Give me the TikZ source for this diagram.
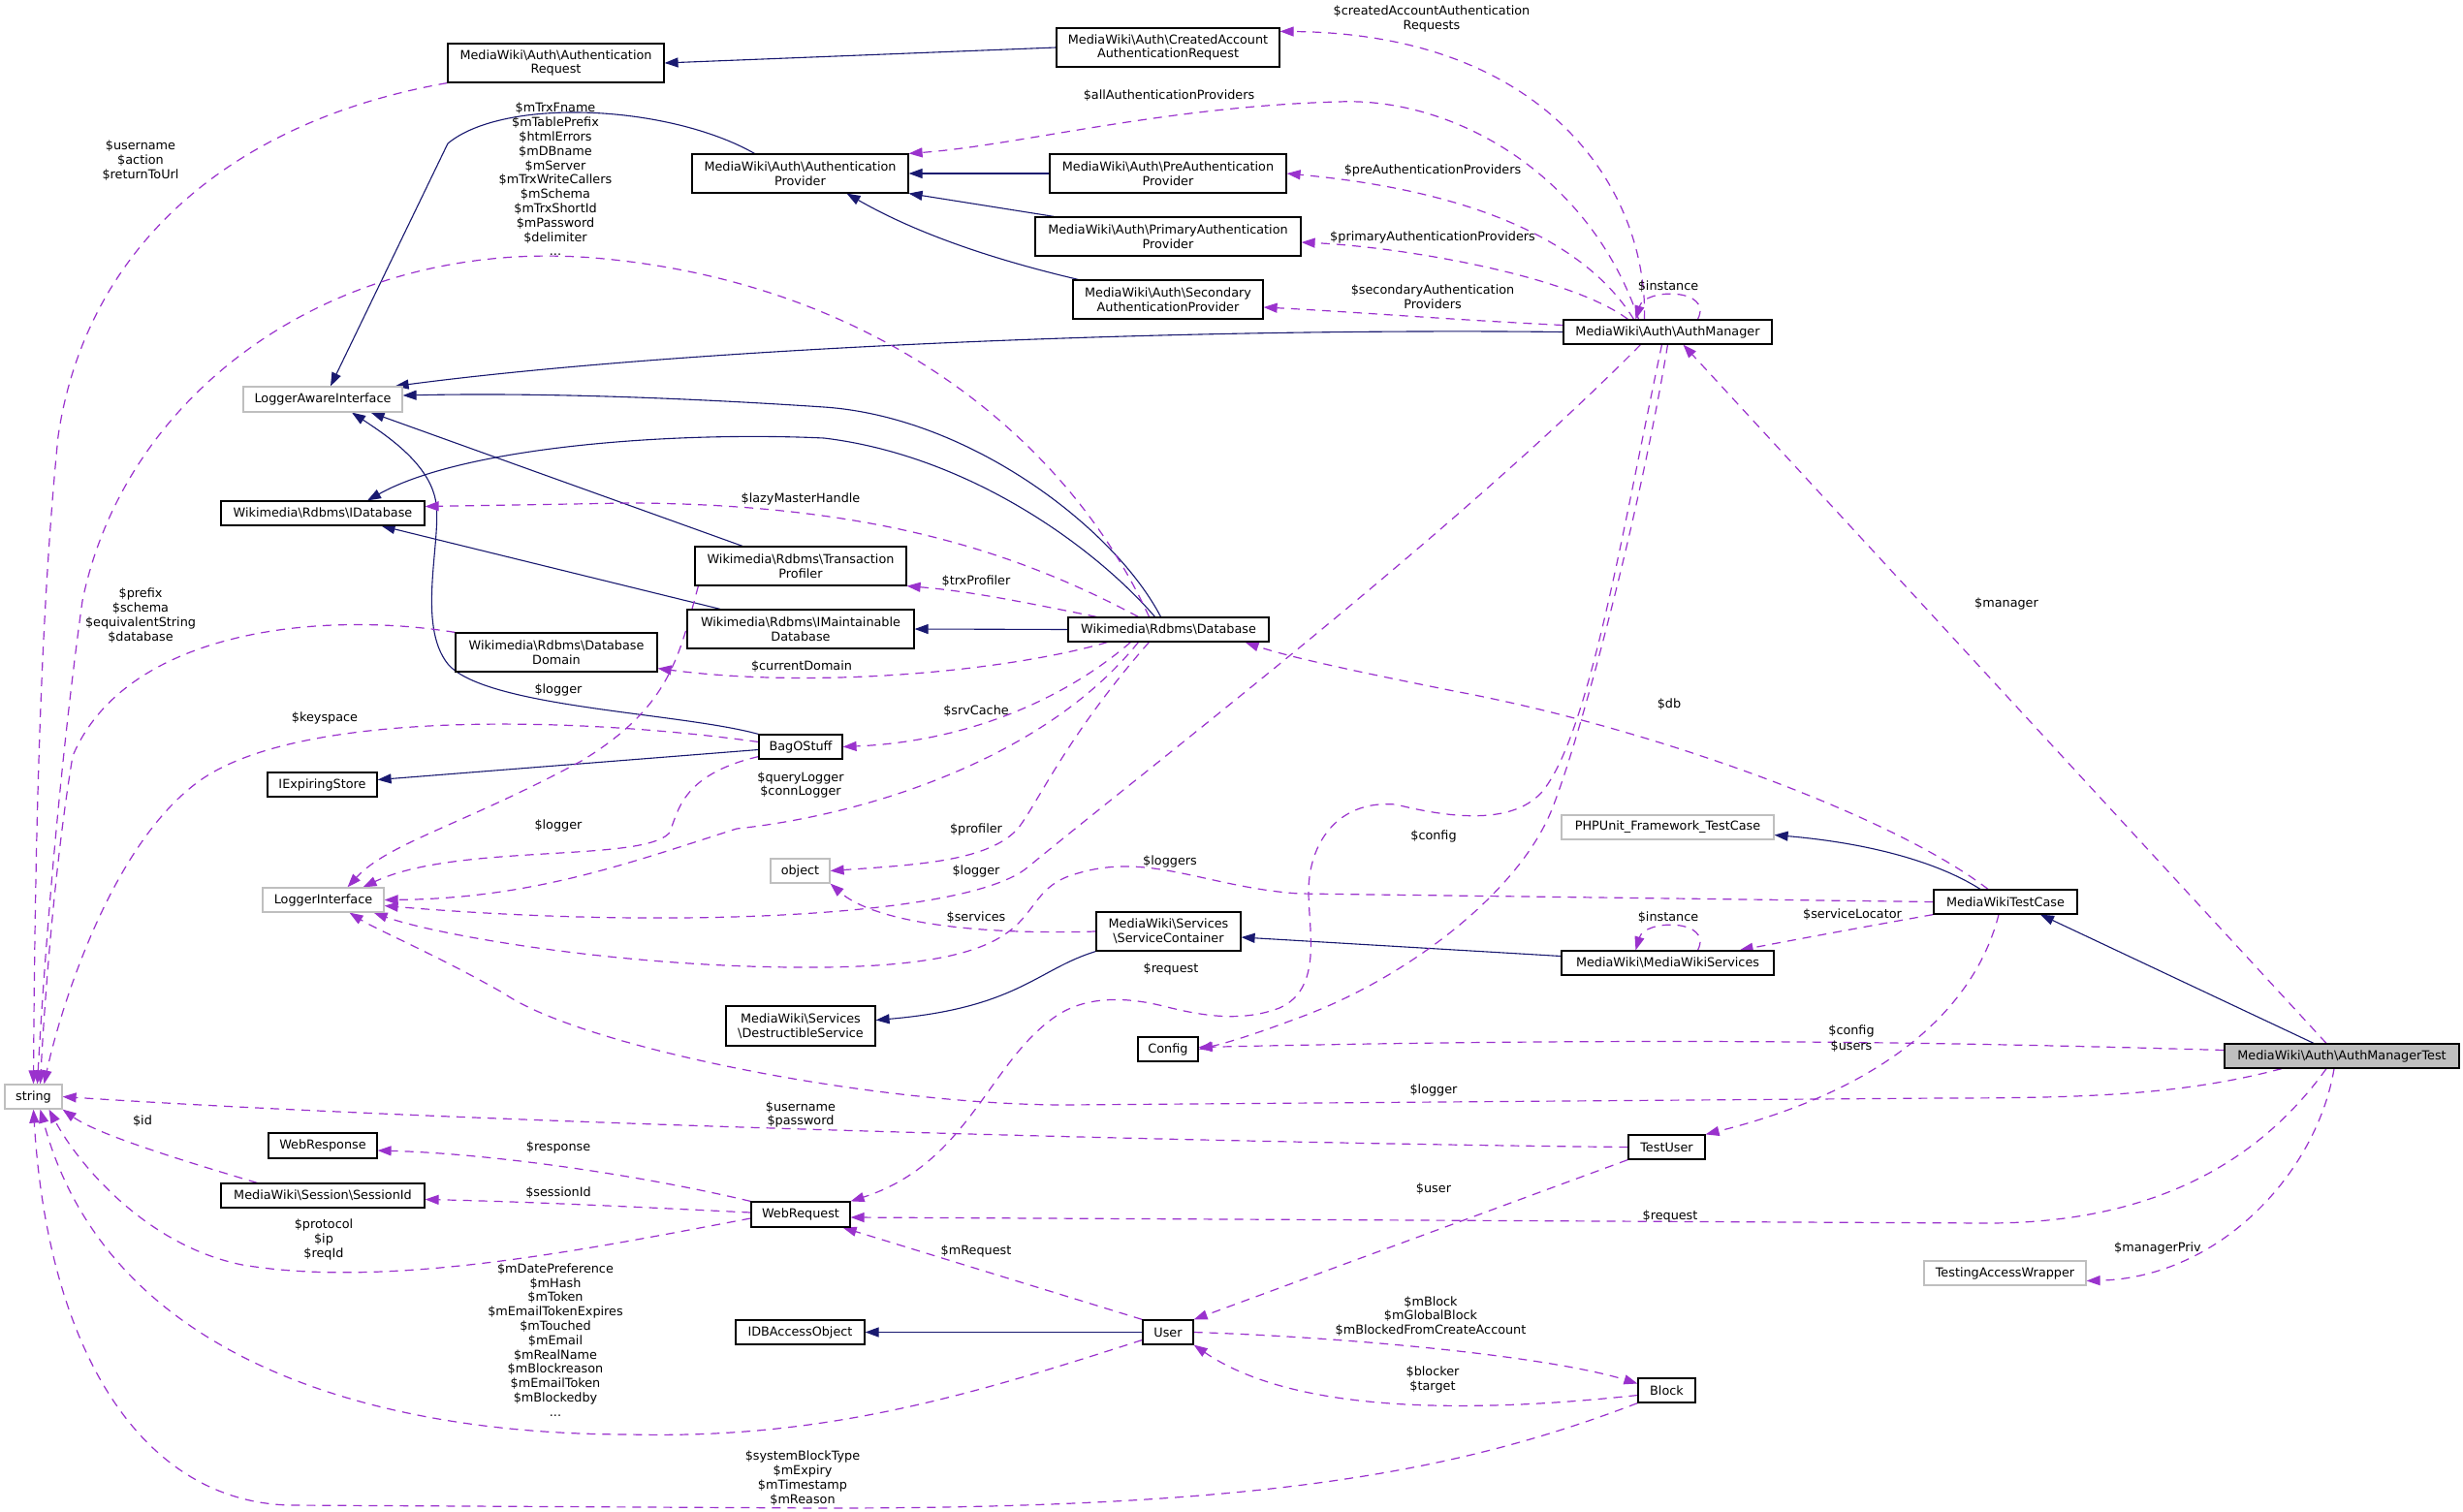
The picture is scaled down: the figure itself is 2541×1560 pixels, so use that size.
\documentclass[tikz,border=0pt]{standalone}
\usepackage{fontspec}
\setmainfont{DejaVu Sans}
\usetikzlibrary{arrows.meta,calc}
\definecolor{inhcol}{HTML}{191970}
\definecolor{usecol}{HTML}{9A32CD}
\definecolor{extcol}{HTML}{BFBFBF}
\pgfdeclarelayer{bglayer}
\pgfdeclarelayer{edgelayer}
\pgfsetlayers{bglayer,edgelayer,main}
\newcommand{\Bsl}{\textbackslash}
\begin{document}
\begin{tikzpicture}[x=1pt,y=-1pt,
  txt/.style={font=\fontsize{12.8pt}{14.8pt}\selectfont},
  cls/.style={txt, draw=black, line width=1.2pt, fill=white, inner sep=0pt, align=center, rectangle},
  ext/.style={cls, draw=extcol},
  cur/.style={cls, fill=extcol},
  sz/.style 2 args={minimum width=#1, minimum height=#2},
  lbl/.style={txt, inner sep=0pt, align=center},
  inh/.style={draw=inhcol, line width=1.1pt, -{Triangle[length=14pt,width=10pt]}},
  usg/.style={draw=usecol, line width=1.2pt, dash pattern=on 9pt off 7pt, -{Triangle[length=14pt,width=10pt]}},
]
\begin{pgfonlayer}{bglayer}
\fill[white] (0,0) rectangle (2541,1560);
\end{pgfonlayer}
\useasboundingbox (0,0) rectangle (2541,1560);

% ---------------- nodes ----------------
\node[cls, sz={223pt}{40pt}] (AR) at (573.5,65) {MediaWiki\Bsl Auth\Bsl Authentication\\Request};
\node[cls, sz={230pt}{40pt}] (CA) at (1205,49) {MediaWiki\Bsl Auth\Bsl CreatedAccount\\AuthenticationRequest};
\node[cls, sz={223pt}{40pt}] (AP) at (825.5,179) {MediaWiki\Bsl Auth\Bsl Authentication\\Provider};
\node[cls, sz={244pt}{40pt}] (PreA) at (1205,179) {MediaWiki\Bsl Auth\Bsl PreAuthentication\\Provider};
\node[cls, sz={274pt}{40pt}] (PriA) at (1205,244) {MediaWiki\Bsl Auth\Bsl PrimaryAuthentication\\Provider};
\node[cls, sz={196pt}{40pt}] (SecA) at (1205,309) {MediaWiki\Bsl Auth\Bsl Secondary\\AuthenticationProvider};
\node[cls, sz={215pt}{25pt}] (AM) at (1720.5,342.5) {MediaWiki\Bsl Auth\Bsl AuthManager};
\node[ext, sz={164pt}{26pt}] (LAI) at (333,412) {LoggerAwareInterface};
\node[cls, sz={210pt}{25pt}] (IDB) at (333,529.5) {Wikimedia\Bsl Rdbms\Bsl IDatabase};
\node[cls, sz={218pt}{40pt}] (TP) at (826,584) {Wikimedia\Bsl Rdbms\Bsl Transaction\\Profiler};
\node[cls, sz={234pt}{40pt}] (IMD) at (826,649) {Wikimedia\Bsl Rdbms\Bsl IMaintainable\\Database};
\node[cls, sz={207pt}{25pt}] (DB) at (1205.5,649.5) {Wikimedia\Bsl Rdbms\Bsl Database};
\node[cls, sz={208pt}{40pt}] (DD) at (574,673) {Wikimedia\Bsl Rdbms\Bsl Database\\Domain};
\node[cls, sz={86pt}{25pt}] (BOS) at (826,770.5) {BagOStuff};
\node[cls, sz={113pt}{25pt}] (IES) at (332.5,809.5) {IExpiringStore};
\node[ext, sz={61pt}{25pt}] (OBJ) at (825.5,898.5) {object};
\node[ext, sz={125pt}{25pt}] (LI) at (333.5,928.5) {LoggerInterface};
\node[ext, sz={219pt}{25pt}] (PHP) at (1720.5,853.5) {PHPUnit\_Framework\_TestCase};
\node[cls, sz={148pt}{25pt}] (MWTC) at (2069,930.5) {MediaWikiTestCase};
\node[cls, sz={149pt}{40pt}] (SC) at (1205.5,961) {MediaWiki\Bsl Services\\\Bsl ServiceContainer};
\node[cls, sz={219pt}{25pt}] (MWS) at (1720.5,993.5) {MediaWiki\Bsl MediaWikiServices};
\node[cls, sz={154pt}{41pt}] (DS) at (826,1058.5) {MediaWiki\Bsl Services\\\Bsl DestructibleService};
\node[cls, sz={62pt}{25pt}] (Config) at (1205,1082.5) {Config};
\node[ext, sz={59pt}{25pt}] (string) at (34.5,1131.5) {string};
\node[cur, sz={242pt}{25pt}] (AMT) at (2416,1089.5) {MediaWiki\Bsl Auth\Bsl AuthManagerTest};
\node[cls, sz={112pt}{26pt}] (WResp) at (333,1182) {WebResponse};
\node[cls, sz={79pt}{25pt}] (TU) at (1719.5,1183.5) {TestUser};
\node[cls, sz={210pt}{25pt}] (SID) at (333,1233.5) {MediaWiki\Bsl Session\Bsl SessionId};
\node[cls, sz={102pt}{26pt}] (WReq) at (826,1253) {WebRequest};
\node[ext, sz={167pt}{25pt}] (TAW) at (2068.5,1313.5) {TestingAccessWrapper};
\node[cls, sz={133pt}{25pt}] (IDBAO) at (825.5,1374.5) {IDBAccessObject};
\node[cls, sz={52pt}{25pt}] (User) at (1205,1374.5) {User};
\node[cls, sz={59pt}{25pt}] (Block) at (1719.5,1434.5) {Block};

% ---------------- labels ----------------
\node[lbl] (l1) at (145,165.5) {\$username\\\$action\\\$returnToUrl};
\node[lbl] (l2) at (573,185) {\$mTrxFname\\\$mTablePrefix\\\$htmlErrors\\\$mDBname\\\$mServer\\\$mTrxWriteCallers\\\$mSchema\\\$mTrxShortId\\\$mPassword\\\$delimiter\\...};
\node[lbl] (l3) at (1477,19.5) {\$createdAccountAuthentication\\Requests};
\node[lbl] (l4) at (1206,99) {\$allAuthenticationProviders};
\node[lbl] (l5) at (1478,176) {\$preAuthenticationProviders};
\node[lbl] (l6) at (1478,245) {\$primaryAuthenticationProviders};
\node[lbl] (l7) at (1478,306) {\$secondaryAuthentication\\Providers};
\node[lbl] (l8) at (1721,296) {\$instance};
\node[lbl] (l9) at (826,515) {\$lazyMasterHandle};
\node[lbl] (l10) at (1007,600) {\$trxProfiler};
\node[lbl] (l11) at (145,635) {\$prefix\\\$schema\\\$equivalentString\\\$database};
\node[lbl] (l12) at (827,688) {\$currentDomain};
\node[lbl] (l13) at (576,712) {\$logger};
\node[lbl] (l14) at (335,741) {\$keyspace};
\node[lbl] (l15) at (1007,734) {\$srvCache};
\node[lbl] (l16) at (826,810) {\$queryLogger\\\$connLogger};
\node[lbl] (l17) at (576,852) {\$logger};
\node[lbl] (l18) at (1007,856) {\$profiler};
\node[lbl] (l19) at (1007,899) {\$logger};
\node[lbl] (l20) at (1007,947) {\$services};
\node[lbl] (l21) at (1479,863) {\$config};
\node[lbl] (l22) at (1207,889) {\$loggers};
\node[lbl] (l23) at (1208,1000) {\$request};
\node[lbl] (l24) at (2070,623) {\$manager};
\node[lbl] (l25) at (1722,727) {\$db};
\node[lbl] (l26) at (1911,944) {\$serviceLocator};
\node[lbl] (l27) at (1721,947) {\$instance};
\node[lbl] (l28) at (1910,1064) {\$config};
\node[lbl] (l28b) at (1910,1080) {\$users};
\node[lbl] (l29) at (1479,1125) {\$logger};
\node[lbl] (l30) at (826,1150) {\$username\\\$password};
\node[lbl] (l31) at (147,1157) {\$id};
\node[lbl] (l32) at (576,1184) {\$response};
\node[lbl] (l33) at (576,1231) {\$sessionId};
\node[lbl] (l34) at (1479,1227) {\$user};
\node[lbl] (l35) at (1723,1255) {\$request};
\node[lbl] (l36) at (334,1279) {\$protocol\\\$ip\\\$reqId};
\node[lbl] (l37) at (2226,1288) {\$managerPriv};
\node[lbl] (l38) at (1007,1291) {\$mRequest};
\node[lbl] (l39) at (573,1382.5) {\$mDatePreference\\\$mHash\\\$mToken\\\$mEmailTokenExpires\\\$mTouched\\\$mEmail\\\$mRealName\\\$mBlockreason\\\$mEmailToken\\\$mBlockedby\\...};
\node[lbl] (l40) at (1476,1358) {\$mBlock\\\$mGlobalBlock\\\$mBlockedFromCreateAccount};
\node[lbl] (l41) at (1478,1423.5) {\$blocker\\\$target};
\node[lbl] (l42) at (828,1525) {\$systemBlockType\\\$mExpiry\\\$mTimestamp\\\$mReason};

\begin{pgfonlayer}{edgelayer}
% ---------------- inheritance ----------------
\draw[inh] (CA.west) -- (AR.east);
\draw[inh] (PreA.west) -- (AP.east);
\draw[inh] ($(PriA.north west)+(20,0)$) -- (AP.south east);
\draw[inh] ($(SecA.north west)+(6,0)$) .. controls (1000,262) and (930,232) .. ($(AP.south)+(48,0)$);
\draw[inh] ($(AP.north)+(-47,0)$) .. controls (690,108) and (520,100) .. (462,148) -- ($(LAI.north)+(8,0)$);
\draw[inh] (AM.west) .. controls (1200,338) and (700,360) .. ($(LAI.north east)+(-8,0)$);
\draw[inh] ($(DB.north)+(-8,0)$) .. controls (1150,545) and (1000,430) .. (850,420) .. controls (700,410) and (550,405) .. ($(LAI.east)+(0,-4)$);
\draw[inh] ($(DB.north)+(-14,0)$) .. controls (1130,565) and (1000,470) .. (850,452) .. controls (700,445) and (480,460) .. ($(IDB.north)+(46,0)$);
\draw[inh] ($(TP.north)+(-60,0)$) -- ($(LAI.south east)+(-33,0)$);
\draw[inh] ($(IMD.north)+(-83,0)$) -- ($(IDB.south east)+(-45,0)$);
\draw[inh] (DB.west) -- (IMD.east);
\draw[inh] (BOS.north west) .. controls (700,735) and (500,730) .. (462,685) .. controls (430,645) and (455,560) .. (450,520) .. controls (445,480) and (400,450) .. ($(LAI.south)+(30,0)$);
\draw[inh] ($(BOS.west)+(0,3)$) -- ($(IES.east)+(0,-5)$);
\draw[inh] (SC.south west) .. controls (1070,1000) and (1050,1040) .. ($(DS.east)+(0,-6)$);
\draw[inh] ($(MWS.west)+(0,-7)$) -- ($(SC.east)+(0,6)$);
\draw[inh] ($(MWTC.north)+(-26,0)$) .. controls (2000,890) and (1930,870) .. ($(PHP.east)+(0,8)$);
\draw[inh] ($(AMT.north)+(-29,0)$) -- ($(MWTC.south)+(36,0)$);
\draw[inh] (User.west) -- (IDBAO.east);

% ---------------- usage ----------------
\draw[usg] (AR.south west) .. controls (232,126) and (88,260) .. (60,450) .. controls (40,650) and (36,900) .. (string.north);
\draw[usg] ($(DB.north)+(-20,0)$) .. controls (1100,450) and (900,290) .. (612,266) .. controls (350,245) and (130,400) .. (85,620) .. controls (60,800) and (45,1000) .. ($(string.north)+(4,0)$);
\draw[usg] ($(AM.north)+(-24,0)$) .. controls (1700,200) and (1600,35) .. ($(CA.north east)+(0,4)$);
\draw[usg] ($(AM.north)+(-30,0)$) .. controls (1640,180) and (1500,100) .. (1381,105) .. controls (1200,110) and (1050,150) .. (AP.north east);
\draw[usg] ($(AM.north)+(-35,0)$) .. controls (1630,240) and (1500,195) .. (PreA.east);
\draw[usg] ($(AM.north)+(-41,0)$) .. controls (1620,285) and (1450,255) .. ($(PriA.east)+(0,6)$);
\draw[usg] ($(AM.west)+(0,-7)$) .. controls (1500,330) and (1400,322) .. ($(SecA.east)+(0,8)$);
\draw[usg] ($(AM.north)+(31,0)$) .. controls (1768,297) and (1697,297) .. ($(AM.north)+(-33,0)$);
\draw[usg] ($(DB.north west)+(73,0)$) .. controls (1050,570) and (900,520) .. (650,519) -- ($(IDB.east)+(0,-7)$);
\draw[usg] ($(DB.north west)+(30,0)$) .. controls (1050,620) and (1000,610) .. (TP.south east);
\draw[usg] ($(DB.south west)+(41,0)$) .. controls (1050,690) and (850,712) .. ($(DD.south east)+(0,-4)$);
\draw[usg] (DD.north west) .. controls (330,630) and (130,650) .. (75,780) .. controls (55,900) and (45,1050) .. ($(string.north)+(7,0)$);
\draw[usg] ($(BOS.west)+(0,-5)$) .. controls (600,740) and (300,730) .. (200,810) .. controls (110,880) and (60,1050) .. ($(string.north)+(11,0)$);
\draw[usg] ($(BOS.south west)+(0,-3)$) .. controls (700,800) and (700,840) .. (690,860) .. controls (660,890) and (470,870) .. ($(LI.north)+(41,0)$);
\draw[usg] ($(TP.south west)+(4,0)$) .. controls (700,680) and (690,730) .. (600,785) .. controls (480,850) and (400,870) .. ($(LI.north)+(25,0)$);
\draw[usg] ($(DB.south west)+(65,0)$) .. controls (1100,720) and (1000,765) .. (BOS.east);
\draw[usg] ($(DB.south west)+(73,0)$) .. controls (1080,780) and (900,840) .. (760,855) .. controls (650,890) and (550,927) .. (LI.east);
\draw[usg] ($(DB.south west)+(84,0)$) .. controls (1100,760) and (1070,830) .. (1050,855) .. controls (1020,888) and (950,892) .. (OBJ.east);
\draw[usg] ($(AM.south)+(-28,0)$) .. controls (1500,550) and (1200,780) .. (1060,895) .. controls (1000,945) and (700,960) .. ($(LI.east)+(0,6)$);
\draw[usg] ($(AMT.south)+(-62,0)$) .. controls (2250,1130) and (2150,1133) .. (2000,1133) -- (1100,1140) .. controls (900,1140) and (600,1080) .. (520,1025) .. controls (450,985) and (390,960) .. ($(LI.south)+(27,0)$);
\draw[usg] (MWTC.west) -- (1340,922) .. controls (1240,915) and (1180,875) .. (1100,905) .. controls (1040,930) and (1090,995) .. (850,998) .. controls (650,1000) and (450,965) .. ($(LI.south east)+(-11,0)$);
\draw[usg] (SC.west) .. controls (1000,965) and (900,950) .. (OBJ.south east);
\draw[usg] ($(AM.south)+(-6,0)$) .. controls (1675,540) and (1640,760) .. (1590,818) .. controls (1560,850) and (1500,845) .. (1440,830) .. controls (1380,825) and (1350,870) .. (1350,920) .. controls (1350,960) and (1365,1020) .. (1320,1040) .. controls (1280,1055) and (1240,1048) .. (1200,1038) .. controls (1160,1028) and (1120,1028) .. (1090,1048) .. controls (1020,1095) and (1000,1200) .. (WReq.north east);
\draw[usg] (AM.south) .. controls (1690,540) and (1630,760) .. (1603,830) .. controls (1570,920) and (1450,1010) .. (1340,1050) .. controls (1300,1065) and (1270,1075) .. (Config.east);
\draw[usg] ($(AMT.west)+(0,-6)$) .. controls (2000,1075) and (1700,1070) .. ($(Config.east)+(0,-2)$);
\draw[usg] ($(MWTC.south)+(-7,0)$) .. controls (2040,1030) and (1960,1120) .. (TU.north east);
\draw[usg] (MWTC.south west) .. controls (1930,955) and (1860,968) .. ($(MWS.north east)+(-36,0)$);
\draw[usg] ($(MWS.north)+(31,0)$) .. controls (1768,948) and (1697,948) .. ($(MWS.north)+(-33,0)$);
\draw[usg] ($(MWTC.north)+(-18,0)$) .. controls (1950,840) and (1700,750) .. (1500,713) .. controls (1400,693) and (1330,678) .. ($(DB.south east)+(-25,0)$);
\draw[usg] ($(AMT.north)+(-16,0)$) -- ($(AM.south)+(16,0)$);
\draw[usg] (TU.west) .. controls (1300,1180) and (500,1160) .. (string.east);
\draw[usg] (TU.south west) -- (User.north east);
\draw[usg] ($(AMT.south)+(-16,0)$) .. controls (2330,1200) and (2220,1262) .. (2050,1262) -- ($(WReq.east)+(0,3)$);
\draw[usg] ($(AMT.south)+(-8,0)$) .. controls (2390,1210) and (2290,1318) .. ($(TAW.east)+(0,8)$);
\draw[usg] (WReq.north west) .. controls (650,1210) and (500,1190) .. ($(WResp.east)+(0,5)$);
\draw[usg] ($(WReq.west)+(0,-2)$) .. controls (650,1245) and (550,1240) .. ($(SID.east)+(0,4)$);
\draw[usg] ($(WReq.west)+(0,4)$) .. controls (600,1290) and (400,1330) .. (250,1305) .. controls (150,1285) and (80,1200) .. ($(string.south)+(16,0)$);
\draw[usg] ($(SID.north west)+(38,0)$) .. controls (180,1195) and (100,1170) .. (string.south east);
\draw[usg] (User.north west) -- ($(WReq.south east)+(-8,0)$);
\draw[usg] ($(User.west)+(0,8)$) .. controls (1000,1440) and (850,1485) .. (650,1480) .. controls (380,1480) and (110,1400) .. ($(string.south)+(7,0)$);
\draw[usg] (User.east) .. controls (1400,1380) and (1600,1400) .. ($(Block.west)+(0,-7)$);
\draw[usg] ($(Block.west)+(0,5)$) .. controls (1500,1460) and (1330,1455) .. (User.south east);
\draw[usg] (Block.south west) .. controls (1500,1520) and (1300,1556) .. (850,1556) -- (300,1553) .. controls (150,1550) and (50,1400) .. (string.south);
\end{pgfonlayer}
\end{tikzpicture}
\end{document}
